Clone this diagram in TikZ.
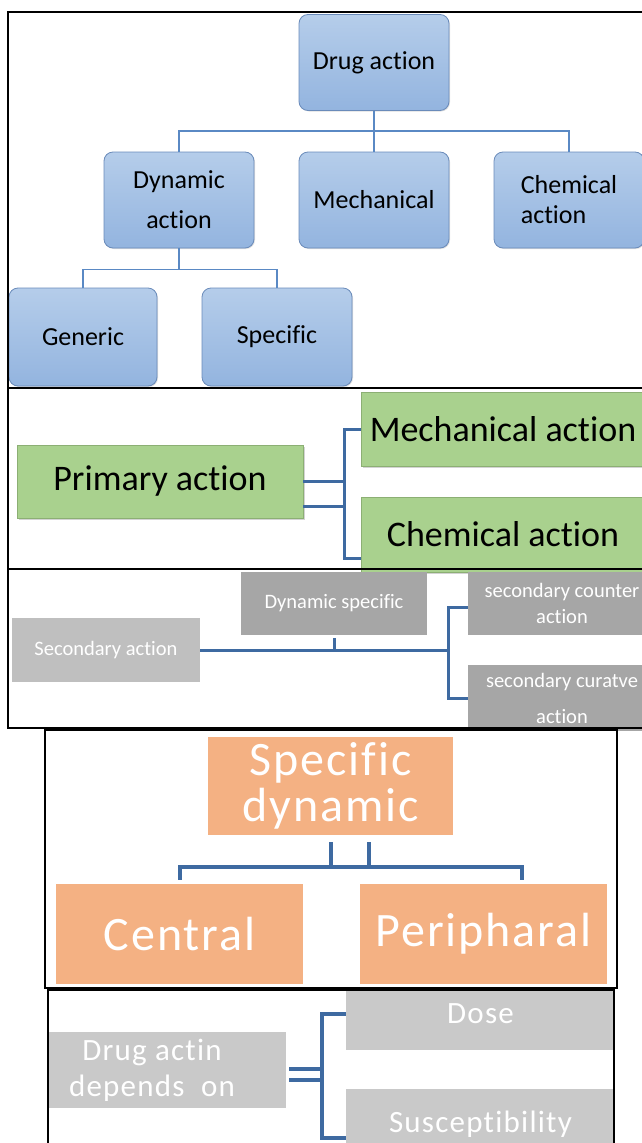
\documentclass[tikz,border=0pt]{standalone}
\usepackage{fontspec}
\setmainfont{Carlito}[Ligatures=NoCommon]
\newfontfamily\spacedfont{Carlito}[Ligatures=NoCommon, LetterSpace=4]
\usetikzlibrary{shadows}

\definecolor{bluetop}{HTML}{B5CDEA}
\definecolor{bluebot}{HTML}{93B4DF}
\definecolor{blueedge}{HTML}{6A8BBA}
\definecolor{bluelink}{HTML}{5A89C4}
\definecolor{darklink}{HTML}{3E6AA1}
\definecolor{leaf}{HTML}{A9D18E}
\definecolor{leafedge}{HTML}{8CAF74}
\definecolor{greylight}{HTML}{BFBFBF}
\definecolor{greydark}{HTML}{A6A6A6}
\definecolor{greypale}{HTML}{C9C9C9}
\definecolor{peach}{HTML}{F4B183}

\tikzset{
  bluebox/.style={draw=blueedge, line width=0.8pt, rounded corners=9pt,
    top color=bluetop, bottom color=bluebot, minimum width=150pt,
    minimum height=96pt, inner sep=0pt, align=center,
    font=\fontsize{26}{40}\selectfont,
    drop shadow={shadow xshift=1pt, shadow yshift=-1pt, opacity=0.25}},
  greenbox/.style={draw=leafedge, line width=0.6pt, fill=leaf, inner sep=0pt,
    font=\fontsize{36}{40}\selectfont,
    drop shadow={shadow xshift=1.5pt, shadow yshift=-1.5pt, opacity=0.35}},
  greybox/.style={fill=greydark, text=white, inner sep=0pt, align=center,
    font=\fontsize{20.5}{26}\selectfont},
  peachbox/.style={fill=peach, text=white, inner sep=0pt, align=center,
    font=\spacedfont\fontsize{48}{46}\selectfont},
  palebox/.style={fill=greypale, text=white, inner sep=0pt, align=center,
    font=\spacedfont\fontsize{31}{36}\selectfont},
  thinlink/.style={draw=bluelink, line width=1.6pt},
  link/.style={draw=darklink, line width=3pt},
  frame/.style={draw=black, line width=2pt}
}

\begin{document}
\begin{tikzpicture}[x=1pt,y=-1pt]
  \useasboundingbox (0,0) rectangle (642,1143);
  \clip (0,0) rectangle (642,1143);

  % Drug action tree
  \node[bluebox] (drug) at (374,62.5) {Drug action};
  \node[bluebox] (dyn) at (179,200) {Dynamic\\action};
  \node[bluebox] (mech) at (374,200) {Mechanical};
  \node[bluebox, align=left, font=\fontsize{26}{30}\selectfont] (chem) at (569,200) {Chemical\\action};
  \node[bluebox, minimum width=148pt, minimum height=98pt] (gen) at (83,337) {Generic};
  \node[bluebox, minimum height=98pt] (spec) at (277,337) {Specific};
  \draw[thinlink] (drug) -- (mech);
  \draw[thinlink] (drug.south) -- ++(0,20) -| (dyn.north);
  \draw[thinlink] (drug.south) -- ++(0,20) -| (chem.north);
  \draw[thinlink] (dyn.south) -- ++(0,21) -| (gen.north);
  \draw[thinlink] (dyn.south) -- ++(0,21) -| (spec.north);

  % Primary action
  \node[greenbox, minimum width=286pt, minimum height=73pt] (prim) at (160,481.5) {Primary action};
  \node[greenbox, minimum width=284pt, minimum height=74pt] (mechact) at (503,429) {Mechanical action};
  \node[greenbox, minimum width=284pt, minimum height=75pt] (chemact) at (503,534.5) {Chemical action};
  \coordinate (fork) at (344,0);
  \draw[link] (prim.east) -- (prim.east -| fork);
  \draw[link] ([yshift=-25pt]prim.east) -- ([yshift=-25pt]prim.east -| fork);
  \draw[link] (mechact.west) -- (mechact.west -| fork) |- ([yshift=-23.5pt]chemact.west);

  % Secondary action
  \node[greybox, fill=greylight, minimum width=188pt, minimum height=64pt] (sec) at (106,650) {Secondary action};
  \node[greybox, minimum width=186pt, minimum height=63pt] (dynsp) at (334,603.5) {Dynamic specific};
  \node[greybox, minimum width=188pt, minimum height=63pt] (counter) at (562,603.5) {secondary counter\\action};
  \node[greybox, minimum width=188pt, minimum height=66pt,
    font=\fontsize{20.5}{36}\selectfont] (curatve) at (562,698) {secondary curatve\\action};
  \coordinate (fork2) at (448,0);
  \draw[link] (sec.east) -- (sec.east -| fork2);
  \draw[link] ([yshift=-3pt]dynsp.south) -- (dynsp.south |- sec.east);
  \draw[link] ([yshift=-4pt]counter.west) -- ([yshift=-4pt]counter.west -| fork2) |- (curatve.west);

  % Specific dynamic
  \node[peachbox, minimum width=245pt, minimum height=98pt] (spdyn) at (330.5,786) {Specific\\dynamic};
  \node[peachbox, minimum width=247pt, minimum height=100pt] (central) at (179.5,934) {Central};
  \node[peachbox, minimum width=247pt, minimum height=100pt] (periph) at (483.5,934) {Peripharal};
  \coordinate (bar) at (0,867);
  \draw[link, line width=4pt] ([yshift=-7pt]spdyn.south) -- (spdyn.south |- bar);
  \draw[link, line width=4pt] ([xshift=38pt,yshift=-7pt]spdyn.south) -- ([xshift=38pt]spdyn.south |- bar);
  \draw[link, line width=4pt] ([yshift=4pt]central.north) -- (central.north |- bar)
    -- ([xshift=38.5pt]periph.north |- bar) -- ([xshift=38.5pt,yshift=4pt]periph.north);

  % Drug actin depends on
  \node[palebox, minimum width=238pt, minimum height=76pt] (dep) at (167,1070) {Drug actin\kern30pt\\depends~~on\kern30pt};
  \node[palebox, minimum width=269pt, minimum height=60pt, text depth=13pt] (dose) at (480.5,1020) {Dose};
  \node[palebox, minimum width=269pt, minimum height=71pt] (susc) at (480.5,1124.5) {Susceptibility};
  \coordinate (fork3) at (322,0);
  \draw[link, line width=4pt] ([yshift=1pt]dep.east) ++(3pt,0) -- ([yshift=1pt]dep.east -| fork3);
  \draw[link, line width=4pt] ([yshift=-10pt]dep.east) ++(3pt,0) -- ([yshift=-10pt]dep.east -| fork3);
  \draw[link, line width=4pt] ([yshift=6pt]dose.west) -- ([yshift=6pt]dose.west -| fork3)
    |- ([yshift=-13pt]susc.west);

  % Frames
  \draw[frame] (8,12) rectangle (650,388);
  \draw[frame] (8,388) rectangle (650,569);
  \draw[frame] (8,569) rectangle (650,728);
  \draw[frame, line width=1.5pt] (45,730) rectangle (617,988);
  \draw[frame, line width=1.5pt] (48,990) rectangle (614,1150);
\end{tikzpicture}
\end{document}
